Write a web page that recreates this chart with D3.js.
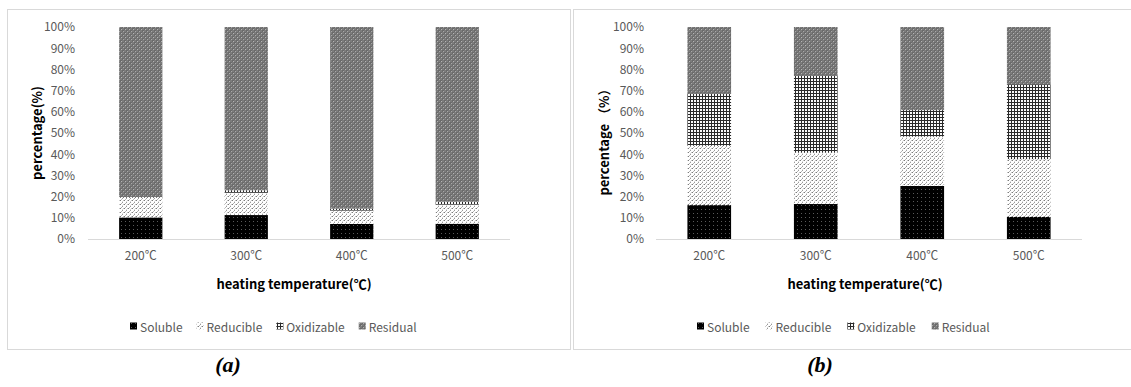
<!DOCTYPE html>
<html>
<head>
<meta charset="utf-8">
<script src="https://cdn.jsdelivr.net/npm/d3@7"></script>
<style>
  html, body { margin: 0; padding: 0; background: #fff; }
  svg { display: block; }
</style>
</head>
<body>
<svg id="chart" width="1131" height="387"></svg>
<script>
// Heavy-metal speciation fractions (%) after heating at each temperature
const temperatures = ["200℃", "300℃", "400℃", "500℃"];
const fractions = ["Soluble", "Reducible", "Oxidizable", "Residual"];

// Panel (a)
const solubleA    = [10.2, 11.3, 7.1, 7.2];
const reducibleA  = [9.3, 10.5, 6.3, 9.0];
const oxidizableA = [0.3, 1.2, 0.9, 1.4];
const residualA   = [80.2, 77.0, 85.7, 82.4];

// Panel (b)
const solubleB    = [16.0, 16.5, 25.0, 10.4];
const reducibleB  = [28.0, 24.2, 23.3, 27.3];
const oxidizableB = [24.7, 36.5, 12.5, 35.3];
const residualB   = [31.3, 22.8, 39.2, 27.0];

const yTicks = [0, 10, 20, 30, 40, 50, 60, 70, 80, 90, 100];

const svg = d3.select("#chart");
const defs = svg.append("defs");

// Monochrome fill patterns, one per fraction
function makePattern(id, size, bg, cells) {
  const p = defs.append("pattern")
    .attr("id", id)
    .attr("patternUnits", "userSpaceOnUse")
    .attr("width", size).attr("height", size);
  p.append("rect").attr("width", size).attr("height", size).attr("fill", bg);
  cells.forEach(c => p.append("rect")
    .attr("x", c[0]).attr("y", c[1]).attr("width", c[2]).attr("height", c[3]).attr("fill", c[4]));
}
makePattern("pat-Soluble", 4, "#000", [[1, 1, 1, 1, "#5a5a5a"]]);
makePattern("pat-Reducible", 4, "#fff", [
  [0, 0, 1, 1, "#7a7a7a"], [2, 2, 1, 1, "#9a9a9a"], [3, 0, 1, 1, "#c4c4c4"],
  [1, 3, 1, 1, "#b8b8b8"], [2, 1, 1, 1, "#dcdcdc"]
]);
makePattern("pat-Oxidizable", 3, "#fafafa", [[0, 0, 3, 1, "#2a2a2a"], [0, 0, 1, 3, "#2a2a2a"]]);
makePattern("pat-Residual", 4, "#7c7c7c", [[0, 0, 2, 2, "#6a6a6a"], [2, 2, 2, 2, "#6a6a6a"], [1, 1, 1, 1, "#b4b4b4"], [3, 3, 1, 1, "#a8a8a8"]]);

const font = "'Noto Sans CJK SC', 'Noto Sans', sans-serif";

function drawPanel(cfg) {
  const g = svg.append("g");

  // panel frame
  g.append("rect")
    .attr("x", cfg.frame[0] + 0.5).attr("y", cfg.frame[1] + 0.5)
    .attr("width", cfg.frame[2]).attr("height", cfg.frame[3])
    .attr("fill", "none").attr("stroke", "#d9d9d9");

  const x = d3.scaleBand().domain(temperatures).range([cfg.x0, cfg.x1]).paddingInner(0.59).paddingOuter(0.295);
  const y = d3.scaleLinear().domain([0, 100]).range([239, 27]);

  const rows = temperatures.map((t, i) => ({
    t,
    Soluble: cfg.series[0][i],
    Reducible: cfg.series[1][i],
    Oxidizable: cfg.series[2][i],
    Residual: cfg.series[3][i]
  }));
  const stacked = d3.stack().keys(fractions)(rows);

  // y tick labels
  const yAxis = d3.axisLeft(y).tickValues(yTicks).tickFormat(d => d + "%").tickSize(0).tickPadding(0);
  const ya = g.append("g").attr("transform", `translate(${cfg.yLabelX},0)`).call(yAxis);
  ya.select(".domain").remove();
  ya.selectAll("text").attr("font-family", font).attr("font-size", 12).attr("fill", "#595959");

  // bars
  stacked.forEach(layer => {
    g.append("g").selectAll("rect").data(layer).join("rect")
      .attr("x", d => x(d.data.t))
      .attr("width", x.bandwidth())
      .attr("y", d => y(d[1]))
      .attr("height", d => y(d[0]) - y(d[1]))
      .attr("fill", `url(#pat-${layer.key})`);
  });

  // x axis
  const xAxis = d3.axisBottom(x).tickSize(0).tickPadding(12);
  const xa = g.append("g").attr("transform", `translate(0,${y(0)})`).call(xAxis);
  xa.select(".domain").attr("stroke", "#d9d9d9").attr("d", `M${cfg.x0},0.5H${cfg.x1}`);
  xa.selectAll("text").attr("font-family", font).attr("font-size", 12).attr("fill", "#595959");

  // axis titles
  g.append("text")
    .attr("transform", `translate(${cfg.yTitleX},${cfg.yTitleY}) rotate(-90)`)
    .attr("text-anchor", "middle").attr("dominant-baseline", "central")
    .attr("font-family", font).attr("font-weight", "bold").attr("font-size", 13).attr("fill", "#000")
    .text(cfg.yTitle);
  g.append("text")
    .attr("x", cfg.xTitleX).attr("y", 283)
    .attr("text-anchor", "middle").attr("dominant-baseline", "central")
    .attr("font-family", font).attr("font-weight", "bold").attr("font-size", 13).attr("fill", "#000")
    .text("heating temperature(℃)");

  // legend
  const lg = g.append("g").attr("transform", `translate(${cfg.legendX},326)`);
  let cx = 0;
  fractions.forEach((f, i) => {
    lg.append("rect").attr("x", cx).attr("y", -3.5).attr("width", 7).attr("height", 7)
      .attr("fill", `url(#pat-${f})`);
    const t = lg.append("text").attr("x", cx + 10).attr("y", 0)
      .attr("dominant-baseline", "central")
      .attr("font-family", font).attr("font-size", 12).attr("fill", "#595959")
      .text(f);
    cx += 10 + t.node().getComputedTextLength() + cfg.legendGap;
  });

  // panel caption
  svg.append("text")
    .attr("x", cfg.captionX).attr("y", 372)
    .attr("text-anchor", "middle")
    .attr("font-family", "'Liberation Serif', 'Times New Roman', serif")
    .attr("font-weight", "bold").attr("font-style", "italic").attr("font-size", 22).attr("fill", "#000")
    .text(cfg.caption);
}

drawPanel({
  frame: [7, 9, 563, 340],
  x0: 88, x1: 510,
  yLabelX: 75,
  yTitleX: 36, yTitleY: 133, yTitle: "percentage(%)",
  xTitleX: 294,
  legendX: 130, legendGap: 14,
  series: [solubleA, reducibleA, oxidizableA, residualA],
  captionX: 228, caption: "(a)"
});

drawPanel({
  frame: [573, 9, 560, 340],
  x0: 656, x1: 1082,
  yLabelX: 644,
  yTitleX: 603, yTitleY: 139, yTitle: "percentage （%）",
  xTitleX: 865,
  legendX: 697, legendGap: 16,
  series: [solubleB, reducibleB, oxidizableB, residualB],
  captionX: 820, caption: "(b)"
});
</script>
</body>
</html>
